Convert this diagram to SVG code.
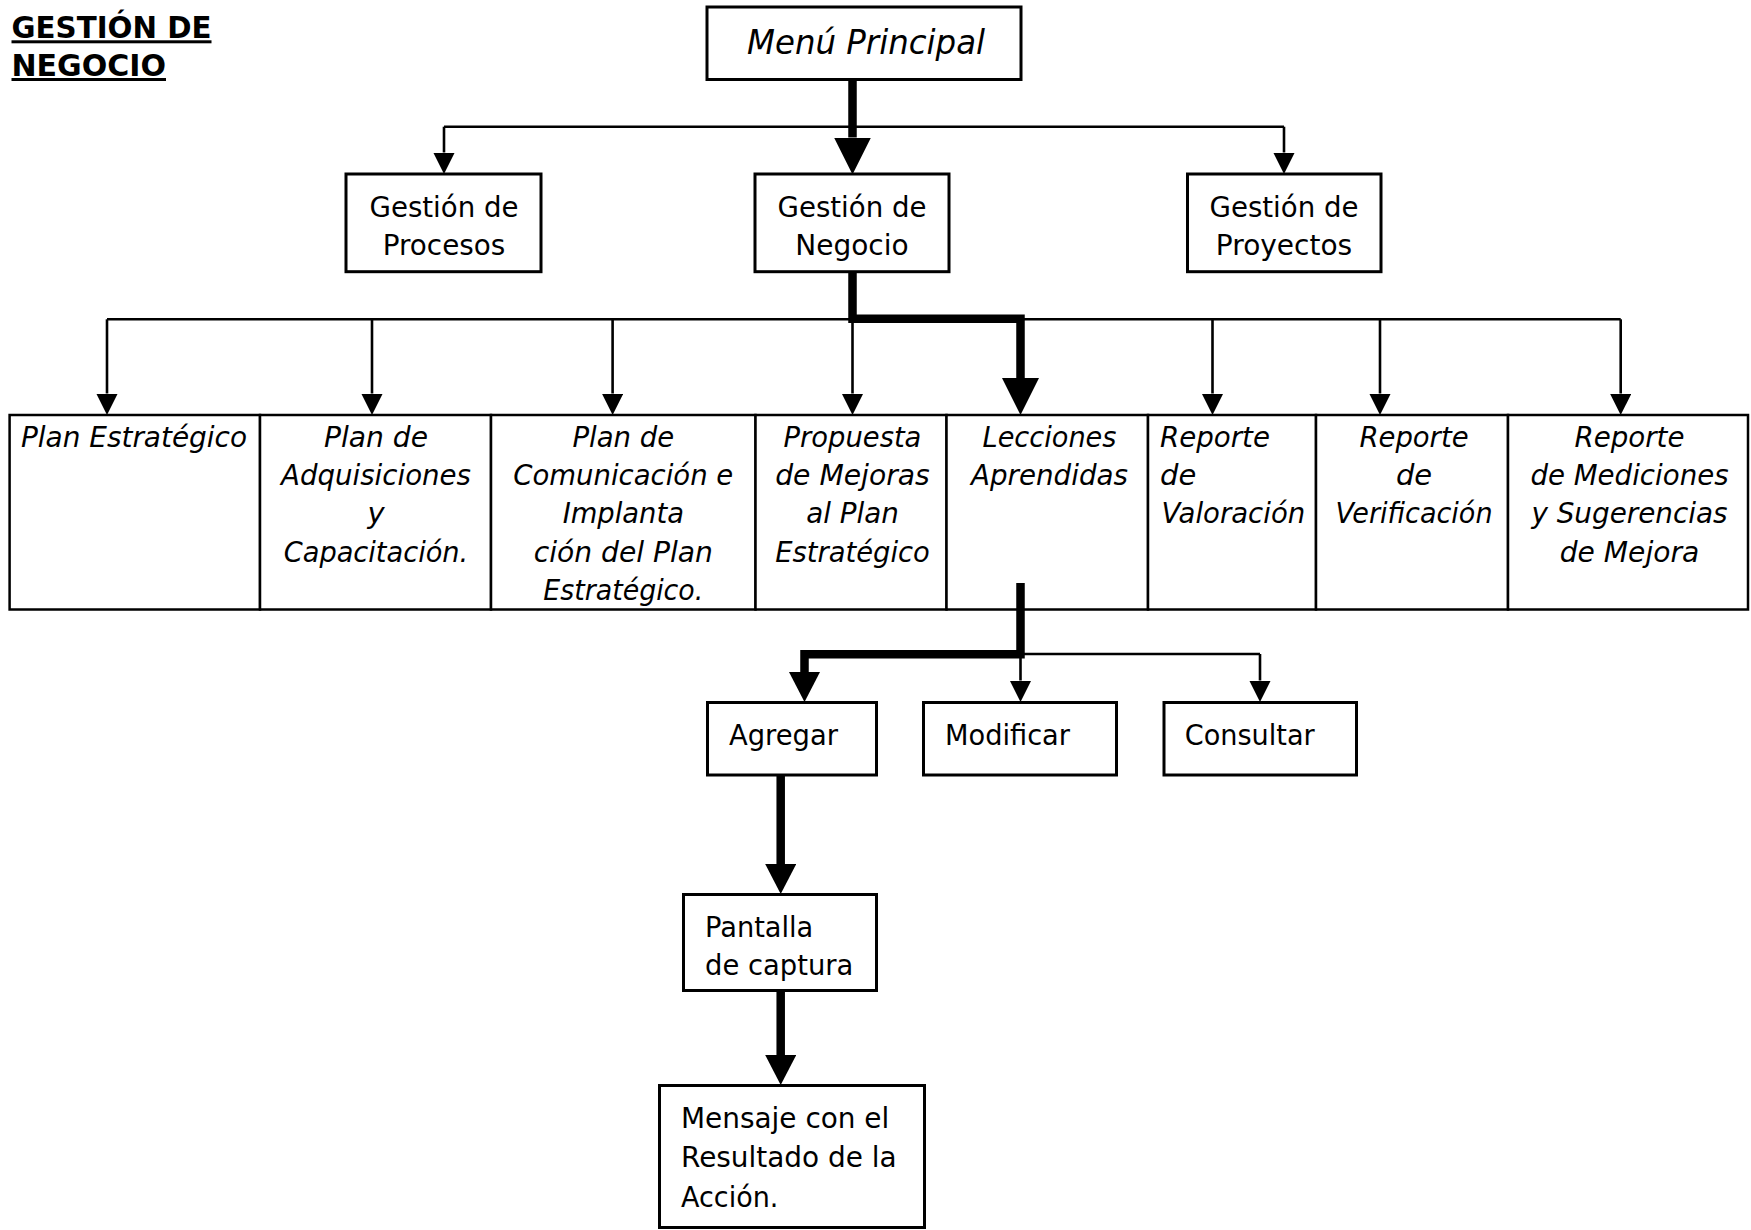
<svg xmlns="http://www.w3.org/2000/svg" width="1751" height="1230" viewBox="0 0 1751 1230">
<style>
text{font-family:"DejaVu Sans","Liberation Sans",sans-serif;font-size:28px;fill:#000}
.i{font-style:italic;font-size:29px}
.m{text-anchor:middle}
.title{font-weight:bold;font-size:30px;text-decoration:underline}
.box{fill:#fff;stroke:#000;stroke-width:3}
.cell{fill:#fff;stroke:#000;stroke-width:2.5}
.thin{fill:none;stroke:#000;stroke-width:2.6}
.thick{fill:none;stroke:#000;stroke-width:8.5;stroke-linejoin:miter}
.ta{marker-end:url(#aThin)}
.tb{marker-end:url(#aBig)}
.ts{marker-end:url(#aSmall)}
</style>
<defs>
<marker id="aThin" markerUnits="userSpaceOnUse" viewBox="0 0 21.5 21.5" markerWidth="21.5" markerHeight="21.5" refX="0" refY="10.75" orient="auto"><path d="M0,0 L21.5,10.75 L0,21.5 z" fill="#000"/></marker>
<marker id="aBig" markerUnits="userSpaceOnUse" viewBox="0 0 37 37" markerWidth="37" markerHeight="37" refX="0" refY="18.5" orient="auto"><path d="M0,0 L37,18.5 L0,37 z" fill="#000"/></marker>
<marker id="aSmall" markerUnits="userSpaceOnUse" viewBox="0 0 30 31" markerWidth="30" markerHeight="31" refX="0" refY="15.5" orient="auto"><path d="M0,0 L30,15.5 L0,31 z" fill="#000"/></marker>
</defs>
<rect width="1751" height="1230" fill="#fff"/>

<g id="title">
<text class="title" x="11.5" y="38.3" textLength="200" lengthAdjust="spacingAndGlyphs">GESTIÓN DE</text>
<text class="title" x="11.5" y="76" textLength="154.5" lengthAdjust="spacingAndGlyphs">NEGOCIO</text>
</g>

<g id="menu-principal">
<rect class="box" x="707" y="7" width="314" height="72.5"/>
<text class="i m" style="font-size:34px" x="866" y="54.3" textLength="238" lengthAdjust="spacingAndGlyphs">Menú Principal</text>
</g>

<g id="gestion-procesos">
<rect class="box" x="346" y="174" width="195" height="97.7"/>
<text class="m" x="444" y="217.3" textLength="149" lengthAdjust="spacingAndGlyphs">Gestión de</text>
<text class="m" x="444" y="255" textLength="122.5" lengthAdjust="spacingAndGlyphs">Procesos</text>
</g>

<g id="gestion-negocio">
<rect class="box" x="755" y="174" width="194" height="97.7"/>
<text class="m" x="852" y="217.3" textLength="149" lengthAdjust="spacingAndGlyphs">Gestión de</text>
<text class="m" x="852" y="255">Negocio</text>
</g>

<g id="gestion-proyectos">
<rect class="box" x="1187.5" y="174" width="193.5" height="97.7"/>
<text class="m" x="1284" y="217.3" textLength="149" lengthAdjust="spacingAndGlyphs">Gestión de</text>
<text class="m" x="1284" y="255">Proyectos</text>
</g>

<g id="plan-estrategico">
<rect class="cell" x="9.6" y="415" width="250.4" height="194.5"/>
<text class="i" x="21" y="446.5" textLength="226" lengthAdjust="spacingAndGlyphs">Plan Estratégico</text>
</g>

<g id="plan-adquisiciones">
<rect class="cell" x="260" y="415" width="231" height="194.5"/>
<text class="i m" x="376" y="446.5" textLength="104" lengthAdjust="spacingAndGlyphs">Plan de</text>
<text class="i m" x="376" y="484.9" textLength="190" lengthAdjust="spacingAndGlyphs">Adquisiciones</text>
<text class="i m" x="376" y="523.3">y</text>
<text class="i m" x="376" y="561.7" textLength="184.5" lengthAdjust="spacingAndGlyphs">Capacitación.</text>
</g>

<g id="plan-comunicacion">
<rect class="cell" x="491" y="415" width="264.5" height="194.5"/>
<text class="i m" x="623.3" y="446.5" textLength="101.7" lengthAdjust="spacingAndGlyphs">Plan de</text>
<text class="i m" x="623.3" y="484.9" textLength="220" lengthAdjust="spacingAndGlyphs">Comunicación e</text>
<text class="i m" x="623.3" y="523.3" textLength="121.3" lengthAdjust="spacingAndGlyphs">Implanta</text>
<text class="i m" x="623.3" y="561.7" textLength="179.3" lengthAdjust="spacingAndGlyphs">ción del Plan</text>
<text class="i m" x="623.3" y="600.1" textLength="160" lengthAdjust="spacingAndGlyphs">Estratégico.</text>
</g>

<g id="propuesta-mejoras">
<rect class="cell" x="755.5" y="415" width="191" height="194.5"/>
<text class="i m" x="852.5" y="446.5" textLength="137.8" lengthAdjust="spacingAndGlyphs">Propuesta</text>
<text class="i m" x="852.5" y="484.9" textLength="154.6" lengthAdjust="spacingAndGlyphs">de Mejoras</text>
<text class="i m" x="852.5" y="523.3" textLength="92.6" lengthAdjust="spacingAndGlyphs">al Plan</text>
<text class="i m" x="852.5" y="561.7" textLength="154.6" lengthAdjust="spacingAndGlyphs">Estratégico</text>
</g>

<g id="lecciones-aprendidas">
<rect class="cell" x="946.5" y="415" width="201.5" height="194.5"/>
<text class="i m" x="1049.5" y="446.5" textLength="134" lengthAdjust="spacingAndGlyphs">Lecciones</text>
<text class="i m" x="1049.5" y="484.9" textLength="157" lengthAdjust="spacingAndGlyphs">Aprendidas</text>
</g>

<g id="reporte-valoracion">
<rect class="cell" x="1148" y="415" width="168" height="194.5"/>
<text class="i" x="1160" y="446.5" textLength="110" lengthAdjust="spacingAndGlyphs">Reporte</text>
<text class="i" x="1160" y="484.9">de</text>
<text class="i" x="1161.5" y="523.3" textLength="143.7" lengthAdjust="spacingAndGlyphs">Valoración</text>
</g>

<g id="reporte-verificacion">
<rect class="cell" x="1316" y="415" width="192" height="194.5"/>
<text class="i m" x="1414" y="446.5" textLength="109.2" lengthAdjust="spacingAndGlyphs">Reporte</text>
<text class="i m" x="1414" y="484.9">de</text>
<text class="i m" x="1414" y="523.3" textLength="157.1" lengthAdjust="spacingAndGlyphs">Verificación</text>
</g>

<g id="reporte-mediciones">
<rect class="cell" x="1508" y="415" width="240" height="194.5"/>
<text class="i m" x="1629.5" y="446.5" textLength="110" lengthAdjust="spacingAndGlyphs">Reporte</text>
<text class="i m" x="1629.5" y="484.9" textLength="198.2" lengthAdjust="spacingAndGlyphs">de Mediciones</text>
<text class="i m" x="1629.5" y="523.3" textLength="196.2" lengthAdjust="spacingAndGlyphs">y Sugerencias</text>
<text class="i m" x="1629.5" y="561.7" textLength="139.5" lengthAdjust="spacingAndGlyphs">de Mejora</text>
</g>

<g id="agregar">
<rect class="box" x="707.5" y="702.5" width="169" height="72.5"/>
<text x="729" y="745" textLength="109" lengthAdjust="spacingAndGlyphs">Agregar</text>
</g>

<g id="modificar">
<rect class="box" x="923.5" y="702.5" width="193" height="72.5"/>
<text x="945" y="745" textLength="125" lengthAdjust="spacingAndGlyphs">Modificar</text>
</g>

<g id="consultar">
<rect class="box" x="1164" y="702.5" width="192.5" height="72.5"/>
<text x="1184.7" y="745" textLength="130" lengthAdjust="spacingAndGlyphs">Consultar</text>
</g>

<g id="pantalla-captura">
<rect class="box" x="683.5" y="894.5" width="193" height="96"/>
<text x="705" y="936.7" textLength="108.3" lengthAdjust="spacingAndGlyphs">Pantalla</text>
<text x="705" y="975" textLength="148.3" lengthAdjust="spacingAndGlyphs">de captura</text>
</g>

<g id="mensaje-resultado">
<rect class="box" x="659.5" y="1085.5" width="265" height="142"/>
<text x="681" y="1128.3" textLength="208.3" lengthAdjust="spacingAndGlyphs">Mensaje con el</text>
<text x="681" y="1167.3" textLength="215.7" lengthAdjust="spacingAndGlyphs">Resultado de la</text>
<text x="681" y="1206.7" textLength="97.3" lengthAdjust="spacingAndGlyphs">Acción.</text>
</g>

<g id="connectors">
<path class="thin" d="M444,126.7 H1284"/>
<path class="thin ta" d="M444,126.7 V152.5"/>
<path class="thin ta" d="M1284,126.7 V152.5"/>
<path class="thick tb" d="M852.5,79.5 V137.5"/>
<path class="thin" d="M107,319.3 H1620.7"/>
<path class="thin ta" d="M107,319.3 V393.5"/>
<path class="thin ta" d="M372,319.3 V393.5"/>
<path class="thin ta" d="M612.6,319.3 V393.5"/>
<path class="thin ta" d="M852.5,319.3 V393.5"/>
<path class="thin ta" d="M1212.5,319.3 V393.5"/>
<path class="thin ta" d="M1380,319.3 V393.5"/>
<path class="thin ta" d="M1620.7,319.3 V393.5"/>
<path class="thick tb" d="M852.5,271.7 V318.8 H1020.5 V378"/>
<path class="thin" d="M1020.5,654 H1260"/>
<path class="thin ta" d="M1020.5,654 V680.5"/>
<path class="thin ta" d="M1260,654 V680.5"/>
<path class="thick ts" d="M1020.5,583 V654.2 H804.5 V672"/>
<path class="thick ts" d="M780.7,775 V864"/>
<path class="thick ts" d="M780.7,990.7 V1055"/>
</g>
</svg>
